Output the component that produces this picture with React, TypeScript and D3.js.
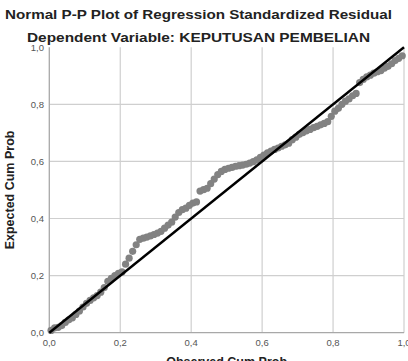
import React, { useEffect, useRef } from "react";
import * as d3 from "d3";

// Observed cumulative probability of each standardized residual (sorted)
const observedCumProb = [
  0.005, 0.015, 0.025, 0.035, 0.045, 0.055, 0.065, 0.075, 0.085, 0.095,
  0.105, 0.115, 0.125, 0.135, 0.145, 0.155, 0.165, 0.175, 0.185, 0.195,
  0.205, 0.215, 0.225, 0.235, 0.245, 0.255, 0.265, 0.275, 0.285, 0.295,
  0.305, 0.315, 0.325, 0.335, 0.345, 0.355, 0.365, 0.375, 0.385, 0.395,
  0.405, 0.415, 0.425, 0.435, 0.445, 0.455, 0.465, 0.475, 0.485, 0.495,
  0.505, 0.515, 0.525, 0.535, 0.545, 0.555, 0.565, 0.575, 0.585, 0.595,
  0.605, 0.615, 0.625, 0.635, 0.645, 0.655, 0.665, 0.675, 0.685, 0.695,
  0.705, 0.715, 0.725, 0.735, 0.745, 0.755, 0.765, 0.775, 0.785, 0.795,
  0.805, 0.815, 0.825, 0.835, 0.845, 0.855, 0.865, 0.875, 0.885, 0.895,
  0.905, 0.915, 0.925, 0.935, 0.945, 0.955, 0.965, 0.975, 0.985, 0.995,
];

// Expected cumulative probability under the normal distribution
const expectedCumProb = [
  0.008, 0.017, 0.019, 0.025, 0.036, 0.045, 0.052, 0.064, 0.076, 0.09,
  0.103, 0.113, 0.122, 0.13, 0.142, 0.158, 0.18, 0.19, 0.2, 0.208,
  0.213, 0.24, 0.261, 0.285, 0.308, 0.327, 0.331, 0.335, 0.339, 0.344,
  0.349, 0.355, 0.366, 0.377, 0.387, 0.405, 0.421, 0.431, 0.436, 0.446,
  0.454, 0.458, 0.496, 0.501, 0.506, 0.522, 0.538, 0.554, 0.565, 0.572,
  0.576, 0.579, 0.583, 0.585, 0.587, 0.59, 0.594, 0.599, 0.605, 0.614,
  0.622, 0.63, 0.636, 0.642, 0.647, 0.653, 0.658, 0.664, 0.676, 0.685,
  0.695, 0.701, 0.707, 0.712, 0.718, 0.723, 0.728, 0.733, 0.739, 0.758,
  0.776, 0.786, 0.8, 0.811, 0.819, 0.83, 0.838, 0.876, 0.887, 0.896,
  0.902, 0.909, 0.914, 0.918, 0.927, 0.933, 0.942, 0.953, 0.961, 0.97,
];

const tickValues = [0, 0.2, 0.4, 0.6, 0.8, 1.0];

const title = "Normal P-P Plot of Regression Standardized Residual";
const subtitle = "Dependent Variable: KEPUTUSAN PEMBELIAN";
const xLabel = "Observed Cum Prob";
const yLabel = "Expected Cum Prob";

const FONT = "'Liberation Sans', Arial, sans-serif";

const PPPlot = () => {
  const svgRef = useRef<SVGSVGElement>(null);

  useEffect(() => {
    const width = 408;
    const height = 361;
    const plot = { left: 49.3, right: 404, top: 47.2, bottom: 332.7 };

    const svg = d3.select(svgRef.current);
    svg.selectAll("*").remove();
    svg.attr("width", width).attr("height", height);

    svg.append("rect").attr("width", width).attr("height", height).attr("fill", "#fff");

    const x = d3.scaleLinear().domain([0, 1]).range([plot.left, plot.right]);
    const y = d3.scaleLinear().domain([0, 1]).range([plot.bottom, plot.top]);
    const fmt = (d: number) => d3.format(".1f")(d).replace(".", ",");

    // grid lines
    const grid = svg.append("g").attr("stroke", "#cfcfcf").attr("stroke-width", 1.2);
    tickValues.slice(1).forEach((t) => {
      grid
        .append("line")
        .attr("x1", x(t))
        .attr("x2", x(t))
        .attr("y1", plot.top)
        .attr("y2", plot.bottom);
    });
    tickValues.slice(1, -1).forEach((t) => {
      grid
        .append("line")
        .attr("x1", plot.left)
        .attr("x2", plot.right)
        .attr("y1", y(t))
        .attr("y2", y(t));
    });

    // axis lines
    const axes = svg.append("g").attr("stroke", "#a8a8a8").attr("stroke-width", 1.3);
    axes.append("line").attr("x1", plot.left).attr("x2", plot.left).attr("y1", plot.top).attr("y2", plot.bottom);
    axes.append("line").attr("x1", plot.left).attr("x2", plot.right).attr("y1", plot.bottom).attr("y2", plot.bottom);

    // tick labels
    const tickStyle = (sel: any) =>
      sel.attr("font-family", FONT).attr("font-size", 9.5).attr("fill", "#555");

    tickValues.forEach((t) => {
      svg
        .append("text")
        .call(tickStyle)
        .attr("x", 44)
        .attr("y", y(t))
        .attr("dy", "0.35em")
        .attr("text-anchor", "end")
        .text(fmt(t));
      svg
        .append("text")
        .call(tickStyle)
        .attr("x", x(t))
        .attr("y", 346)
        .attr("text-anchor", "middle")
        .text(fmt(t));
    });

    // residual points
    svg
      .append("g")
      .attr("fill", "#828282")
      .selectAll("circle")
      .data(observedCumProb.map((o, i) => [o, expectedCumProb[i]]))
      .enter()
      .append("circle")
      .attr("cx", (d) => x(d[0]))
      .attr("cy", (d) => y(d[1]))
      .attr("r", 3.6);

    // reference diagonal
    svg
      .append("line")
      .attr("x1", x(0))
      .attr("y1", y(0))
      .attr("x2", x(1))
      .attr("y2", y(1))
      .attr("stroke", "#000")
      .attr("stroke-width", 2.4);

    // titles
    svg
      .append("text")
      .attr("x", 198.5)
      .attr("y", 19)
      .attr("text-anchor", "middle")
      .attr("font-family", FONT)
      .attr("font-size", 13)
      .attr("font-weight", "bold")
      .attr("fill", "#222")
      .attr("textLength", 387)
      .attr("lengthAdjust", "spacingAndGlyphs")
      .text(title);

    svg
      .append("text")
      .attr("x", 198.5)
      .attr("y", 41.5)
      .attr("text-anchor", "middle")
      .attr("font-family", FONT)
      .attr("font-size", 12.5)
      .attr("font-weight", "bold")
      .attr("fill", "#222")
      .attr("textLength", 343)
      .attr("lengthAdjust", "spacingAndGlyphs")
      .text(subtitle);

    // axis titles
    svg
      .append("text")
      .attr("x", (plot.left + plot.right) / 2)
      .attr("y", 366)
      .attr("text-anchor", "middle")
      .attr("font-family", FONT)
      .attr("font-size", 12.5)
      .attr("font-weight", "bold")
      .attr("fill", "#222")
      .text(xLabel);

    svg
      .append("text")
      .attr("transform", `translate(14,${(plot.top + plot.bottom) / 2}) rotate(-90)`)
      .attr("text-anchor", "middle")
      .attr("font-family", FONT)
      .attr("font-size", 12.5)
      .attr("font-weight", "bold")
      .attr("fill", "#222")
      .text(yLabel);
  }, []);

  return <svg ref={svgRef} style={{ position: "absolute", left: 0, top: 0 }}></svg>;
};

export default function App() {
  return <PPPlot />;
}
